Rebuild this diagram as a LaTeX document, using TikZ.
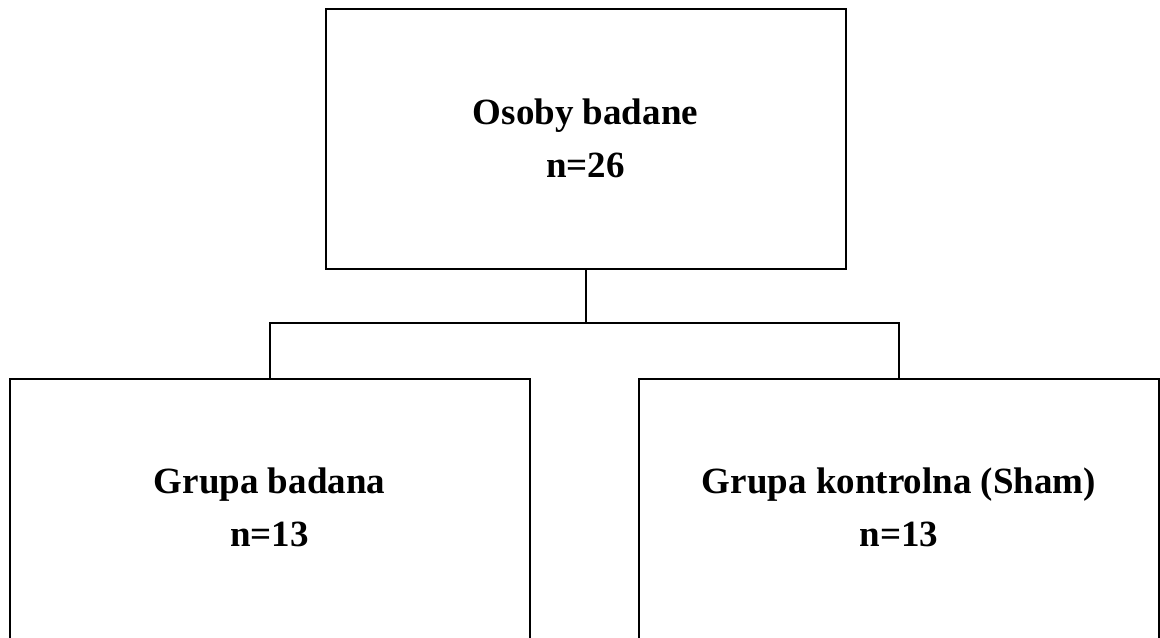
\documentclass[tikz,border=0pt]{standalone}
\usepackage{fontspec}
\setmainfont{Liberation Serif}
\begin{document}
\begin{tikzpicture}[x=0.75pt,y=-0.75pt,
  box/.style={draw,line width=1.5pt,minimum width=390pt,minimum height=195pt,inner sep=0pt,outer sep=0pt},
  wire/.style={line width=1.5pt},
  txt/.style={font=\fontsize{27.75pt}{33pt}\selectfont\bfseries,anchor=base,inner sep=0pt}]
  \useasboundingbox (0,0) rectangle (1160,637);
  \clip (0,0) rectangle (1160,637);

  % boxes
  \node[box] (top) at (585.5,139) {};
  \node[box] (left) at (269.5,508.5) {};
  \node[box] (right) at (899,508.5) {};

  % texts
  \node[txt] (t1) at (585.5,124) {Osoby badane};
  \node[txt] (t2) at (585.5,177) {n=26};
  \node[txt] (l1) at (269.5,493) {Grupa badana};
  \node[txt] (l2) at (269.5,546) {n=13};
  \node[txt] (r1) at (899,493) {Grupa kontrolna (Sham)};
  \node[txt] (r2) at (899,546) {n=13};

  % tree connector
  \coordinate (bus) at (0,323);
  \draw[wire] (top.south) -- (top.south |- bus);
  \draw[wire] (left.north) -- (left.north |- bus) -- (right.north |- bus) -- (right.north);
\end{tikzpicture}
\end{document}
